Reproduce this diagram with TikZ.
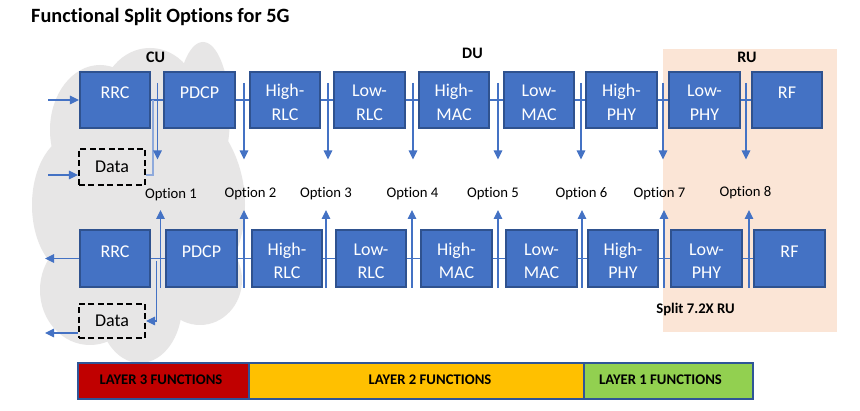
\documentclass[tikz,border=0pt]{standalone}
\usepackage{fontspec}
\setmainfont[Ligatures=NoCommon]{Carlito}
\usetikzlibrary{arrows.meta,calc}
\definecolor{boxfill}{HTML}{4472C4}
\definecolor{boxline}{HTML}{2F528F}
\definecolor{conncol}{HTML}{4472C4}
\definecolor{connlight}{HTML}{8FAADC}
\definecolor{cloudgray}{HTML}{E7E6E6}
\definecolor{peach}{HTML}{FBE5D6}
\definecolor{barline}{HTML}{2F5597}
\definecolor{layerthree}{HTML}{C00000}
\definecolor{layertwo}{HTML}{FFC000}
\definecolor{layerone}{HTML}{92D050}
\begin{document}
\begin{tikzpicture}[x=1pt,y=-1pt,
  fnbox/.style={draw=boxline, line width=1.6pt, fill=boxfill, minimum width=70.5pt, minimum height=56.5pt, inner sep=0pt},
  databox/.style={draw=black, line width=1.6pt, dash pattern=on 6pt off 3.5pt, minimum width=66.5pt, inner sep=0pt, font=\fontsize{18}{22}\selectfont},
  boxlbl/.style={text=white, inner sep=0pt, anchor=base, font=\fontsize{18}{22}\selectfont},
  optlbl/.style={inner sep=0pt, anchor=base, font=\fontsize{14.7}{18}\selectfont},
  headlbl/.style={inner sep=0pt, anchor=base, font=\fontsize{16}{19}\selectfont\bfseries},
  barlbl/.style={inner sep=0pt, anchor=base, font=\fontsize{14.7}{18}\selectfont\bfseries},
  conn/.style={draw=conncol, line width=1.1pt},
  arr/.style={conn, -{Triangle[width=8.5pt,length=9pt]}},
]
\useasboundingbox (0,0) rectangle (860,411);
\fill[white] (0,0) rectangle (860,411);

% cloud (CU)
\fill[cloudgray]
  (145,205) ellipse [x radius=100pt, y radius=115pt]
  (100,130) ellipse [x radius=50pt, y radius=65pt]
  (150,105) ellipse [x radius=50pt, y radius=57pt]
  (203,115) ellipse [x radius=27pt, y radius=73pt]
  (75,205) ellipse [x radius=43pt, y radius=70pt]
  (90,290) ellipse [x radius=50pt, y radius=55pt]
  (140,305) ellipse [x radius=42pt, y radius=58pt]
  (200,280) ellipse [x radius=42pt, y radius=45pt];

% RU background
\fill[peach] (663,49) rectangle (837,332);

% title and headers
\node[inner sep=0pt, anchor=base west, font=\fontsize{20.3}{24}\selectfont\bfseries] (title) at (31,23) {Functional Split Options for 5G};
\node[headlbl] (cu) at (155.5,63) {CU};
\node[headlbl] (du) at (472.5,59) {DU};
\node[headlbl] (ru) at (747,63) {RU};

% top row boxes
\foreach \n/\x in {t1/115,t2/199.5,t3/285,t4/369.5,t5/454,t6/539,t7/621.5,t8/704.5,t9/787}
  \node[fnbox] (\n) at (\x,100) {};
% bottom row boxes
\foreach \n/\x in {b1/115,b2/201.5,b3/287,b4/371,b5/456.5,b6/541.5,b7/623,b8/706.5,b9/789.5}
  \node[fnbox] (\n) at (\x,258.5) {};

% single-line labels
\foreach \n/\a in {t1/RRC,t2/PDCP,t9/RF,b1/RRC,b2/PDCP,b9/RF}
  \node[boxlbl] at ($(\n.north)+(0,28)$) {\a};
% two-line labels
\foreach \n/\a/\b in {t3/High-/RLC,t4/Low-/RLC,t5/High-/MAC,t6/Low-/MAC,t7/High-/PHY,t8/Low-/PHY,
                      b3/High-/RLC,b4/Low-/RLC,b5/High-/MAC,b6/Low-/MAC,b7/High-/PHY,b8/Low-/PHY} {
  \node[boxlbl] at ($(\n.north)+(0,26)$) {\a};
  \node[boxlbl] at ($(\n.north)+(0,49.5)$) {\b};
}

% data boxes
\node[databox, minimum height=36pt] (dtop) at (112,167) {Data};
\node[databox, minimum height=34.5pt] (dbot) at (112,321) {Data};

% horizontal connectors between boxes
\foreach \a/\b in {t1/t2,t2/t3,t3/t4,t4/t5,t5/t6,t6/t7,t7/t8,t8/t9,b1/b2,b2/b3,b3/b4,b4/b5,b5/b6,b6/b7,b7/b8,b8/b9}
  \draw[conn] (\a.east) -- (\b.west);

% data connectors
\draw[draw=connlight, line width=1.6pt] ($(dtop.east)+(0,8)$) -| (153,100);
\coordinate (jb) at (156.5,261);
\draw[arr] (jb) |- (dbot.east);

% input / output arrows
\coordinate (inR) at (48,100);
\coordinate (inD) at (48,175);
\draw[arr] (inR) -- (t1.west);
\draw[arr] (inD) -- (inD -| dtop.west);
\coordinate (outR) at (45,258.5);
\coordinate (outD) at (45,333);
\draw[arr] (b1.west) -- (outR);
\draw[arr] (outD -| dbot.west) -- (outD);

% option arrows (downlink, top)
\foreach \i/\x in {1/157.5,2/244,3/328,4/413,5/498,6/581,7/663,8/746} {
  \coordinate (ts\i) at (\x,83);
  \coordinate (te\i) at (\x,159.5);
  \draw[arr] (ts\i) -- (te\i);
}
% option arrows (uplink, bottom)
\foreach \i/\x in {1/160.5,2/244,3/326,4/412,5/498,6/582,7/664,8/749} {
  \coordinate (bs\i) at (\x,288);
  \coordinate (be\i) at (\x,210);
  \draw[arr] (bs\i) -- (be\i);
}

% option labels
\foreach \i/\x/\y in {1/171/199,2/250.5/197.5,3/326/197.5,4/412.5/197.5,5/493/197.5,6/581.5/197.5,7/659.5/197.5,8/745.5/197}
  \node[optlbl] (op\i) at (\x,\y) {Option \i};

\node[barlbl] (split) at (695.5,314) {Split 7.2X RU};

% layer bar
\fill[layerthree] (78,363) rectangle (249,399);
\fill[layertwo] (249,363) rectangle (584,399);
\fill[layerone] (584,363) rectangle (753,399);
\draw[barline, line width=1.8pt] (78,363) rectangle (753,399);
\draw[barline, line width=1.8pt] (249,363) -- (249,399) (584,363) -- (584,399);
\node[barlbl] (l3t) at (161,385) {LAYER 3 FUNCTIONS};
\node[barlbl] (l2t) at (430,385) {LAYER 2 FUNCTIONS};
\node[barlbl] (l1t) at (660.5,385) {LAYER 1 FUNCTIONS};
\end{tikzpicture}
\end{document}
